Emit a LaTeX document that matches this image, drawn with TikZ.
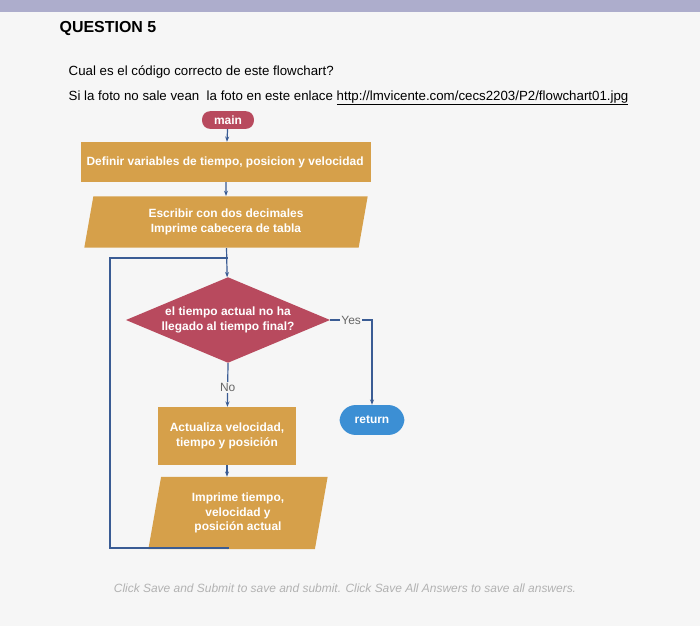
\documentclass[tikz,border=0pt]{standalone}
\usepackage{fontspec}
\setmainfont{Liberation Sans}
\usetikzlibrary{shapes.geometric,arrows.meta}
\definecolor{gold}{HTML}{D6A04A}
\definecolor{rose}{HTML}{B84A5E}
\definecolor{sky}{HTML}{3C8FD4}
\definecolor{ln}{HTML}{3A5C94}
\tikzset{
 flow/.style={draw=ln,line width=0.9pt},
 arr/.style={flow,-{Stealth[length=4pt]}},
 gbox/.style={fill=gold,text=white,font=\bfseries\small,align=center},
 para/.style={gbox,trapezium,trapezium left angle=80,trapezium right angle=100,inner sep=2pt},
}
\begin{document}
\begin{tikzpicture}[x=0.0264583cm,y=-0.0264583cm]
\fill[white!93!gray] (0,0) rectangle (700,626);
\useasboundingbox (0,0) rectangle (700,626);
\fill[white!80!blue!60!gray] (0,0) rectangle (700,12);
\node[font=\bfseries\large,anchor=west] (q) at (55,28) {QUESTION 5};
\node[anchor=west] (t1) at (64,72) {Cual es el código correcto de este flowchart?};
\node[anchor=west] (t2) at (64,98) {Si la foto no sale vean\ \ la foto en este enlace \underline{http://lmvicente.com/cecs2203/P2/flowchart01.jpg}};
\node[fill=rose,text=white,font=\bfseries\small,rounded corners=6pt,minimum width=52pt*0.75,minimum height=13pt] (main) at (228,120) {main};
\node[gbox,minimum width=292*0.75pt,minimum height=40*0.75pt,text width=280*0.75pt,align=flush left] (def) at (226,162) {Definir variables de tiempo, posicion y velocidad};
\node[para,minimum width=285*0.75pt,minimum height=45*0.75pt] (esc) at (226,222) {Escribir con dos decimales\\Imprime cabecera de tabla};
\node[diamond,fill=rose,text=white,font=\bfseries\small,aspect=2.4,inner sep=0pt,minimum width=205*0.75pt,minimum height=86*0.75pt,align=center] (dec) at (228,320) {el tiempo actual no ha\\llegado al tiempo final?};
\node[gbox,minimum width=138*0.75pt,minimum height=58*0.75pt] (act) at (227,436) {Actualiza velocidad,\\tiempo y posición};
\node[para,minimum width=180*0.75pt,minimum height=52*0.75pt] (imp) at (238,513) {Imprime tiempo,\\velocidad y\\posición actual};
\node[fill=sky,text=white,font=\bfseries\small,rounded corners=12pt,minimum width=65*0.75pt,minimum height=30*0.75pt] (ret) at (372,420) {return};
\coordinate (c1) at (228,258);
\coordinate (c2) at (110,258);
\coordinate (c3) at (110,548);
\coordinate (c4) at (228,548);
\coordinate (c5) at (372,320);
\draw[arr] (main) -- (def);
\draw[arr] (def) -- (esc);
\draw[arr] (esc) -- (dec);
\draw[flow] (imp.south -| c4) -- (c4) -- (c3) -- (c2) -- (c1);
\draw[arr] (dec.east) -- node[fill=white!93!gray,font=\small,text=gray!80!black,inner sep=1pt,pos=0.5]{Yes} (c5) -- (ret);
\draw[arr] (dec.south) -- node[fill=white!93!gray,font=\small,text=gray!80!black,inner sep=1pt,pos=0.55]{No} (act);
\draw[arr] (act) -- (imp.north -| act);
\node[font=\small\itshape,text=gray!60] (foot) at (345,588) {Click Save and Submit to save and submit. Click Save All Answers to save all answers.};
\end{tikzpicture}
\end{document}
